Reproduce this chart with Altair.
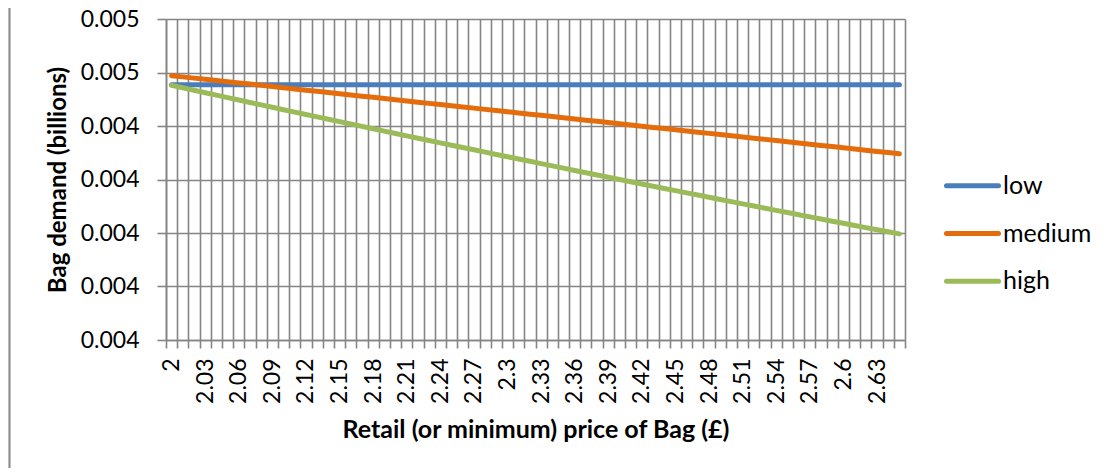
import altair as alt
import pandas as pd

# ---------------- data ----------------
series_names = ["low", "medium", "high"]
series_colors = ["#4A7EBB", "#E46C0A", "#9BBB59"]

prices = [2.00, 2.01, 2.02, 2.03, 2.04, 2.05, 2.06, 2.07, 2.08, 2.09,
          2.10, 2.11, 2.12, 2.13, 2.14, 2.15, 2.16, 2.17, 2.18, 2.19,
          2.20, 2.21, 2.22, 2.23, 2.24, 2.25, 2.26, 2.27, 2.28, 2.29,
          2.30, 2.31, 2.32, 2.33, 2.34, 2.35, 2.36, 2.37, 2.38, 2.39,
          2.40, 2.41, 2.42, 2.43, 2.44, 2.45, 2.46, 2.47, 2.48, 2.49,
          2.50, 2.51, 2.52, 2.53, 2.54, 2.55, 2.56, 2.57, 2.58, 2.59,
          2.60, 2.61, 2.62, 2.63, 2.64, 2.65]

low = [0.004477, 0.004477, 0.004477, 0.004477, 0.004477, 0.004477, 0.004477, 0.004477, 0.004477, 0.004477,
       0.004477, 0.004477, 0.004477, 0.004477, 0.004477, 0.004477, 0.004477, 0.004477, 0.004477, 0.004477,
       0.004477, 0.004477, 0.004477, 0.004477, 0.004477, 0.004477, 0.004477, 0.004477, 0.004477, 0.004477,
       0.004477, 0.004477, 0.004477, 0.004477, 0.004477, 0.004477, 0.004477, 0.004477, 0.004477, 0.004477,
       0.004477, 0.004477, 0.004477, 0.004477, 0.004477, 0.004477, 0.004477, 0.004477, 0.004477, 0.004477,
       0.004477, 0.004477, 0.004477, 0.004477, 0.004477, 0.004477, 0.004477, 0.004477, 0.004477, 0.004477,
       0.004477, 0.004477, 0.004477, 0.004477, 0.004477, 0.004477]

medium = [0.0044940, 0.0044918, 0.0044895, 0.0044873, 0.0044850, 0.0044828, 0.0044805, 0.0044783, 0.0044760, 0.0044738,
          0.0044715, 0.0044693, 0.0044670, 0.0044648, 0.0044626, 0.0044603, 0.0044581, 0.0044558, 0.0044536, 0.0044513,
          0.0044491, 0.0044468, 0.0044446, 0.0044423, 0.0044401, 0.0044379, 0.0044356, 0.0044334, 0.0044311, 0.0044289,
          0.0044266, 0.0044244, 0.0044221, 0.0044199, 0.0044176, 0.0044154, 0.0044131, 0.0044109, 0.0044087, 0.0044064,
          0.0044042, 0.0044019, 0.0043997, 0.0043974, 0.0043952, 0.0043929, 0.0043907, 0.0043884, 0.0043862, 0.0043840,
          0.0043817, 0.0043795, 0.0043772, 0.0043750, 0.0043727, 0.0043705, 0.0043682, 0.0043660, 0.0043637, 0.0043615,
          0.0043592, 0.0043570, 0.0043548, 0.0043525, 0.0043503, 0.0043480]

high = [0.0044760, 0.0044714, 0.0044668, 0.0044622, 0.0044577, 0.0044531, 0.0044486, 0.0044440, 0.0044395, 0.0044350,
        0.0044305, 0.0044260, 0.0044215, 0.0044171, 0.0044126, 0.0044081, 0.0044037, 0.0043993, 0.0043948, 0.0043904,
        0.0043860, 0.0043816, 0.0043772, 0.0043729, 0.0043685, 0.0043641, 0.0043598, 0.0043555, 0.0043511, 0.0043468,
        0.0043425, 0.0043382, 0.0043340, 0.0043297, 0.0043254, 0.0043212, 0.0043169, 0.0043127, 0.0043085, 0.0043043,
        0.0043000, 0.0042959, 0.0042917, 0.0042875, 0.0042833, 0.0042792, 0.0042750, 0.0042709, 0.0042668, 0.0042627,
        0.0042586, 0.0042545, 0.0042504, 0.0042463, 0.0042423, 0.0042382, 0.0042342, 0.0042301, 0.0042261, 0.0042221,
        0.0042181, 0.0042141, 0.0042101, 0.0042062, 0.0042022, 0.0041983]

# x tick labels (one per category boundary, blank where Excel skipped)
x_tick_labels = ["2", "", "", "2.03", "", "", "2.06", "", "", "2.09",
                 "", "", "2.12", "", "", "2.15", "", "", "2.18", "",
                 "", "2.21", "", "", "2.24", "", "", "2.27", "", "",
                 "2.3", "", "", "2.33", "", "", "2.36", "", "", "2.39",
                 "", "", "2.42", "", "", "2.45", "", "", "2.48", "",
                 "", "2.51", "", "", "2.54", "", "", "2.57", "", "",
                 "2.6", "", "", "2.63", "", "", ""]

y_tick_values = [0.0040, 0.0041, 0.0042, 0.0043, 0.0044, 0.0045, 0.0046]
y_tick_labels = ["0.004", "0.004", "0.004", "0.004", "0.004", "0.005", "0.005"]

x_title = "Retail (or minimum) price of Bag (£)"
y_title = "Bag demand (billions)"

# ---------------- build ----------------
rows = []
for name, vals in zip(series_names, [low, medium, high]):
    for p, v in zip(prices, vals):
        rows.append({"price": p, "demand": v, "series": name})
df = pd.DataFrame(rows)

# category boundaries (Excel gridlines sit between categories)
half = 0.005
x_bounds = [round(p - half, 3) for p in prices] + [round(prices[-1] + half, 3)]
x_min, x_max = x_bounds[0], x_bounds[-1]

FONT = "Lato"
GRID = "#858585"
W, H = 739, 321
band_px = W / len(prices)

x_label_js = "[" + ",".join("'" + s + "'" for s in x_tick_labels) + "]"
y_label_js = "[" + ",".join("'" + s + "'" for s in y_tick_labels) + "]"

color_scale = alt.Scale(domain=series_names, range=series_colors)

lines = alt.Chart(df).mark_line(
    strokeWidth=5, strokeCap="round", strokeJoin="round"
).encode(
    x=alt.X("price:Q",
            scale=alt.Scale(domain=[x_min, x_max], nice=False, zero=False),
            axis=alt.Axis(values=x_bounds, grid=True, gridColor=GRID, gridWidth=1.6,
                          domainColor=GRID, domainWidth=1.6, tickColor=GRID, tickWidth=1.6,
                          tickSize=8, labelAngle=-90, labelPadding=10,
                          labelOffset=band_px / 2, labelOverlap=False, labelFlush=False,
                          labelBound=False,
                          labelExpr=f"{x_label_js}[round((datum.value - {x_min}) * 100)]",
                          labelFont=FONT, labelFontSize=23, labelColor="#000000",
                          title=x_title, titleFont=FONT, titleFontSize=25,
                          titleFontWeight="bold", titleColor="#000000",
                          titleX=W / 2, titleY=89, titleBaseline="middle", titleAlign="center")),
    y=alt.Y("demand:Q",
            scale=alt.Scale(domain=[y_tick_values[0], y_tick_values[-1]], nice=False, zero=False),
            axis=alt.Axis(values=y_tick_values, grid=True, gridColor=GRID, gridWidth=1.6,
                          domainColor=GRID, domainWidth=1.6, tickColor=GRID, tickWidth=1.6,
                          tickSize=9, labelPadding=18,
                          labelExpr=f"{y_label_js}[round((datum.value - {y_tick_values[0]}) * 10000)]",
                          labelFont=FONT, labelFontSize=23, labelColor="#000000",
                          labelOverlap=False, labelFlush=False,
                          title=y_title, titleFont=FONT, titleFontSize=24,
                          titleFontWeight="bold", titleColor="#000000",
                          titleX=-108, titleY=H / 2, titleBaseline="middle",
                          titleAlign="center", titleAngle=-90)),
    color=alt.Color("series:N", scale=color_scale, legend=None),
)

# hand-built legend (Excel style: long line swatch + label)
leg_df = pd.DataFrame({"series": series_names})
leg_y = alt.Y("series:N", sort=series_names, axis=None,
              scale=alt.Scale(type="point", range=[166.7, 262.3], padding=0))

leg_lines = alt.Chart(leg_df).mark_rule(strokeWidth=5, strokeCap="round").encode(
    x=alt.value(780.5), x2=alt.value(832.5), y=leg_y,
    color=alt.Color("series:N", scale=color_scale, legend=None),
)
leg_text = alt.Chart(leg_df).mark_text(
    align="left", baseline="middle", font=FONT, fontSize=25, color="#000000"
).encode(x=alt.value(837), y=leg_y, text="series:N")

# chart-area border (left edge is the only visible part)
border = alt.Chart(leg_df).mark_rule(color="#8C8C8C", strokeWidth=1.5).encode(
    x=alt.value(-156.5), y=alt.value(-11), y2=alt.value(H + 128)
)

chart = alt.layer(lines, leg_lines, leg_text, border).resolve_scale(
    y="independent"
).properties(
    width=W, height=H,
    autosize=alt.AutoSizeParams(type="none"),
    padding={"left": 158, "top": 11, "right": 202, "bottom": 128},
).configure_view(stroke=None)

chart.save("out.html", embed_options={"renderer": "svg", "actions": False})
